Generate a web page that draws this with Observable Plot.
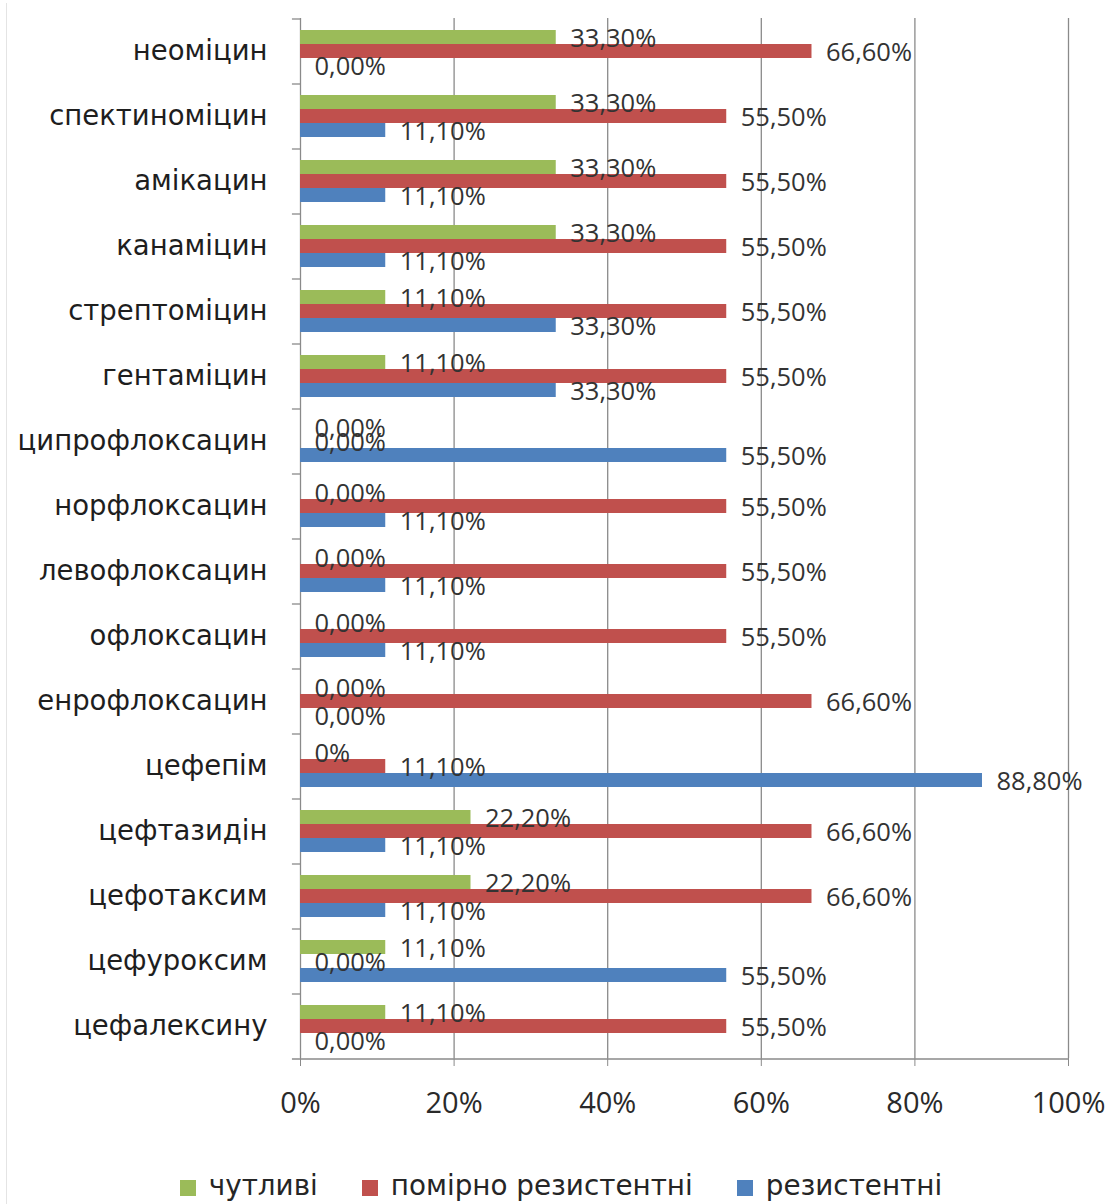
<!DOCTYPE html>
<html>
<head>
<meta charset="utf-8">
<script src="https://cdn.jsdelivr.net/npm/d3@7"></script>
<script src="https://cdn.jsdelivr.net/npm/@observablehq/plot@0.6"></script>
<style>
  body { margin: 0; background: #fff; font-family: "Open Sans", sans-serif; position: relative; }
  #chart { width: 1110px; }
  .edge { position: absolute; left: 6px; top: 3px; width: 1px; height: 1201px; background: #e4e4e4; }
  .legend { display: flex; justify-content: center; align-items: center; gap: 44px;
            height: 54px; margin-top: 8px; margin-left: 12px; font-family: "DejaVu Sans", sans-serif;
            font-size: 27.8px; color: #262626; }
  .legend span.sw { display: inline-block; width: 16px; height: 16px; margin-right: 13px; vertical-align: -1px; }
</style>
</head>
<body>
<div class="edge"></div>
<div id="chart"></div>
<script>
// Antibiotics, top to bottom
const drugs = [
  "неоміцин", "спектиноміцин", "амікацин", "канаміцин", "стрептоміцин",
  "гентаміцин", "ципрофлоксацин", "норфлоксацин", "левофлоксацин", "офлоксацин",
  "енрофлоксацин", "цефепім", "цефтазидін", "цефотаксим", "цефуроксим", "цефалексину"
];

// Share of isolates (%) per antibiotic
const susceptible = [33.3, 33.3, 33.3, 33.3, 11.1, 11.1, 0, 0, 0, 0, 0, 0, 22.2, 22.2, 11.1, 11.1];
const intermediate = [66.6, 55.5, 55.5, 55.5, 55.5, 55.5, 0, 55.5, 55.5, 55.5, 66.6, 11.1, 66.6, 66.6, 0, 55.5];
const resistant = [0, 11.1, 11.1, 11.1, 33.3, 33.3, 55.5, 11.1, 11.1, 11.1, 0, 88.8, 11.1, 11.1, 55.5, 0];

const seriesNames = ["чутливі", "помірно резистентні", "резистентні"];
const seriesColors = ["#9BBB59", "#C0504D", "#4F81BD"];
const xTicks = [0, 20, 40, 60, 80, 100];

// Cells whose label is shown without decimals
const shortFormat = [{drug: "цефепім", series: "чутливі"}];

const table = [];
drugs.forEach((drug, i) => {
  [susceptible, intermediate, resistant].forEach((arr, j) => {
    table.push({drug, series: seriesNames[j], value: arr[i]});
  });
});

const fmt = d => {
  const short = shortFormat.some(s => s.drug === d.drug && s.series === d.series);
  return short ? Math.round(d.value) + "%" : d.value.toFixed(2).replace(".", ",") + "%";
};

const gridColor = "#8a8a8a";
const first = seriesNames[0], last = seriesNames[2];
const half = 18.5; // distance from an outer band centre to the facet edge

const chart = Plot.plot({
  width: 1110,
  height: 1150,
  marginLeft: 300,
  marginRight: 42,
  marginTop: 17,
  marginBottom: 92,
  style: {fontFamily: "Open Sans, sans-serif", background: "#fff"},
  x: {domain: [0, 100]},
  fy: {domain: drugs, padding: 0},
  y: {domain: seriesNames, paddingInner: 0, paddingOuter: 0.82, axis: null},
  color: {domain: seriesNames, range: seriesColors},
  marks: [
    Plot.gridX({ticks: xTicks.slice(1), stroke: gridColor, strokeOpacity: 1, strokeWidth: 1.3}),
    Plot.ruleX([0], {stroke: gridColor, strokeWidth: 1.3}),
    // category separator ticks on the left of the axis
    Plot.ruleY(drugs, {fy: d => d, y: () => first, dy: -half, x1: -1.05, x2: 0, stroke: gridColor, strokeWidth: 1.3}),
    Plot.ruleY([drugs[drugs.length - 1]], {fy: d => d, y: () => last, dy: half, x1: -1.05, x2: 100, stroke: gridColor, strokeWidth: 1.3}),
    Plot.barX(table, {x: "value", y: "series", fy: "drug", fill: "series"}),
    Plot.text(table, {x: "value", y: "series", fy: "drug", text: fmt, textAnchor: "start",
      dx: 14, dy: 1, fontSize: 25.5, fill: "#333"}),
    Plot.axisFy({anchor: "left", tickSize: 0, tickPadding: 33, fontSize: 27.5, fontFamily: "DejaVu Sans",
      color: "#1e1e1e", label: null}),
    Plot.axisX({anchor: "bottom", ticks: xTicks, tickFormat: d => d + "%", tickSize: 8, tickPadding: 26,
      fontSize: 29, color: "#2a2a2a", stroke: gridColor, label: null})
  ]
});
document.getElementById("chart").appendChild(chart);

// legend below the chart
const legend = document.createElement("div");
legend.className = "legend";
seriesNames.forEach((name, i) => {
  const item = document.createElement("div");
  item.innerHTML = `<span class="sw" style="background:${seriesColors[i]}"></span>${name}`;
  legend.appendChild(item);
});
document.body.appendChild(legend);
</script>
</body>
</html>
